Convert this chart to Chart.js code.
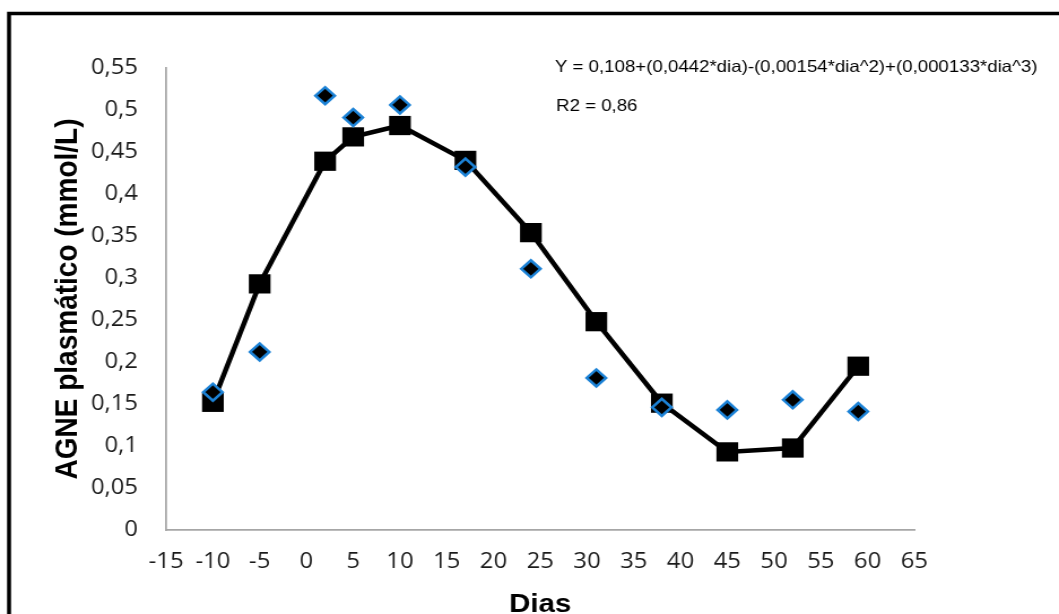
<!DOCTYPE html>
<html>
<head>
<meta charset="utf-8">
<script src="https://cdn.jsdelivr.net/npm/chart.js@4/dist/chart.umd.min.js"></script>
<style>
  html, body { margin: 0; padding: 0; background: #fff; }
  #chart { display: block; }
</style>
</head>
<body>
<canvas id="chart" width="937" height="614" style="width:1059px;height:614px"></canvas>
<script>
// the reference is stretched sideways, so the canvas is drawn narrow and widened by CSS
const DIAS = [-10, -5, 2, 5, 10, 17, 24, 31, 38, 45, 52, 59];
const AGNE_OBSERVADO = [0.164, 0.212, 0.517, 0.491, 0.506, 0.432, 0.311, 0.181, 0.146, 0.143, 0.155, 0.141];
const AGNE_AJUSTADO = [0.152, 0.293, 0.439, 0.468, 0.4815, 0.440, 0.354, 0.248, 0.151, 0.093, 0.0976, 0.195];

const X_TICKS = [-15, -10, -5, 0, 5, 10, 15, 20, 25, 30, 35, 40, 45, 50, 55, 60, 65];
const Y_TICKS = [0, 0.05, 0.1, 0.15, 0.2, 0.25, 0.3, 0.35, 0.4, 0.45, 0.5, 0.55];

const EQUATION = "Y = 0,108+(0,0442*dia)-(0,00154*dia^2)+(0,000133*dia^3)";
const R2_TEXT = "R2 = 0,86";
const X_TITLE = "Dias";
const Y_TITLE = "AGNE plasmático (mmol/L)";

function toPoints(values) {
  return DIAS.map((dia, i) => ({ x: dia, y: values[i] }));
}

function formatComma(value) {
  return String(Number(value.toFixed(2))).replace(".", ",");
}

const tickFont = { family: "'Open Sans'", size: 21 };
const axisColor = "#a6a6a6";

const decorPlugin = {
  id: "decor",
  afterDraw(chart) {
    const ctx = chart.ctx;
    const area = chart.chartArea;
    ctx.save();

    // frame (left and top only)
    ctx.strokeStyle = "#000";
    ctx.lineWidth = 3.5;
    ctx.beginPath();
    ctx.moveTo(8, chart.height);
    ctx.lineTo(8, 13.5);
    ctx.lineTo(chart.width, 13.5);
    ctx.stroke();

    // regression text
    ctx.fillStyle = "#000";
    ctx.font = "16.5px 'Liberation Sans'";
    ctx.textAlign = "left";
    ctx.textBaseline = "alphabetic";
    ctx.fillText(EQUATION, 491, 71.5);
    ctx.fillText(R2_TEXT, 492, 110.5);

    // axis titles
    ctx.font = "bold 26px 'Liberation Sans'";
    ctx.textAlign = "center";
    ctx.fillText(X_TITLE, (area.left + area.right) / 2, 612);

    ctx.font = "bold 28px 'Liberation Sans'";
    ctx.translate(60, (area.top + area.bottom) / 2);
    ctx.rotate(-Math.PI / 2);
    ctx.textBaseline = "middle";
    ctx.fillText(Y_TITLE, 0, 0);

    ctx.restore();
  },
};

new Chart(document.getElementById("chart"), {
  type: "scatter",
  data: {
    datasets: [
      {
        label: "Observado",
        data: toPoints(AGNE_OBSERVADO),
        pointStyle: "rectRot",
        pointRadius: 8.5,
        pointBackgroundColor: "#000",
        pointBorderColor: "#1c82d6",
        pointBorderWidth: 2.5,
        order: 0,
      },
      {
        label: "Ajustado",
        data: toPoints(AGNE_AJUSTADO),
        showLine: true,
        borderColor: "#000",
        borderWidth: 4.5,
        pointStyle: "rect",
        pointRadius: 13.6,
        pointBackgroundColor: "#000",
        pointBorderWidth: 0,
        order: 1,
      },
    ],
  },
  options: {
    responsive: false,
    devicePixelRatio: 1,
    animation: false,
    layout: { padding: { left: 0, right: 128, top: 68, bottom: 0 } },
    plugins: {
      legend: { display: false },
      tooltip: { enabled: false },
    },
    scales: {
      x: {
        type: "linear",
        min: -15,
        max: 65,
        afterBuildTicks: (scale) => { scale.ticks = X_TICKS.map((value) => ({ value })); },
        afterFit: (scale) => { scale.height = 84; },
        grid: { display: false, drawTicks: false },
        border: { display: true, color: axisColor, width: 1.75 },
        ticks: { font: tickFont, color: "#1a1a1a", padding: 19, maxRotation: 0, autoSkip: false },
      },
      y: {
        type: "linear",
        min: 0,
        max: 0.55,
        afterBuildTicks: (scale) => { scale.ticks = Y_TICKS.map((value) => ({ value })); },
        afterFit: (scale) => { scale.width = 147; },
        grid: { display: false, drawTicks: false },
        border: { display: true, color: axisColor, width: 1.75 },
        ticks: { font: tickFont, color: "#1a1a1a", padding: 25, callback: (value) => formatComma(value) },
      },
    },
  },
  plugins: [decorPlugin],
});
</script>
</body>
</html>
